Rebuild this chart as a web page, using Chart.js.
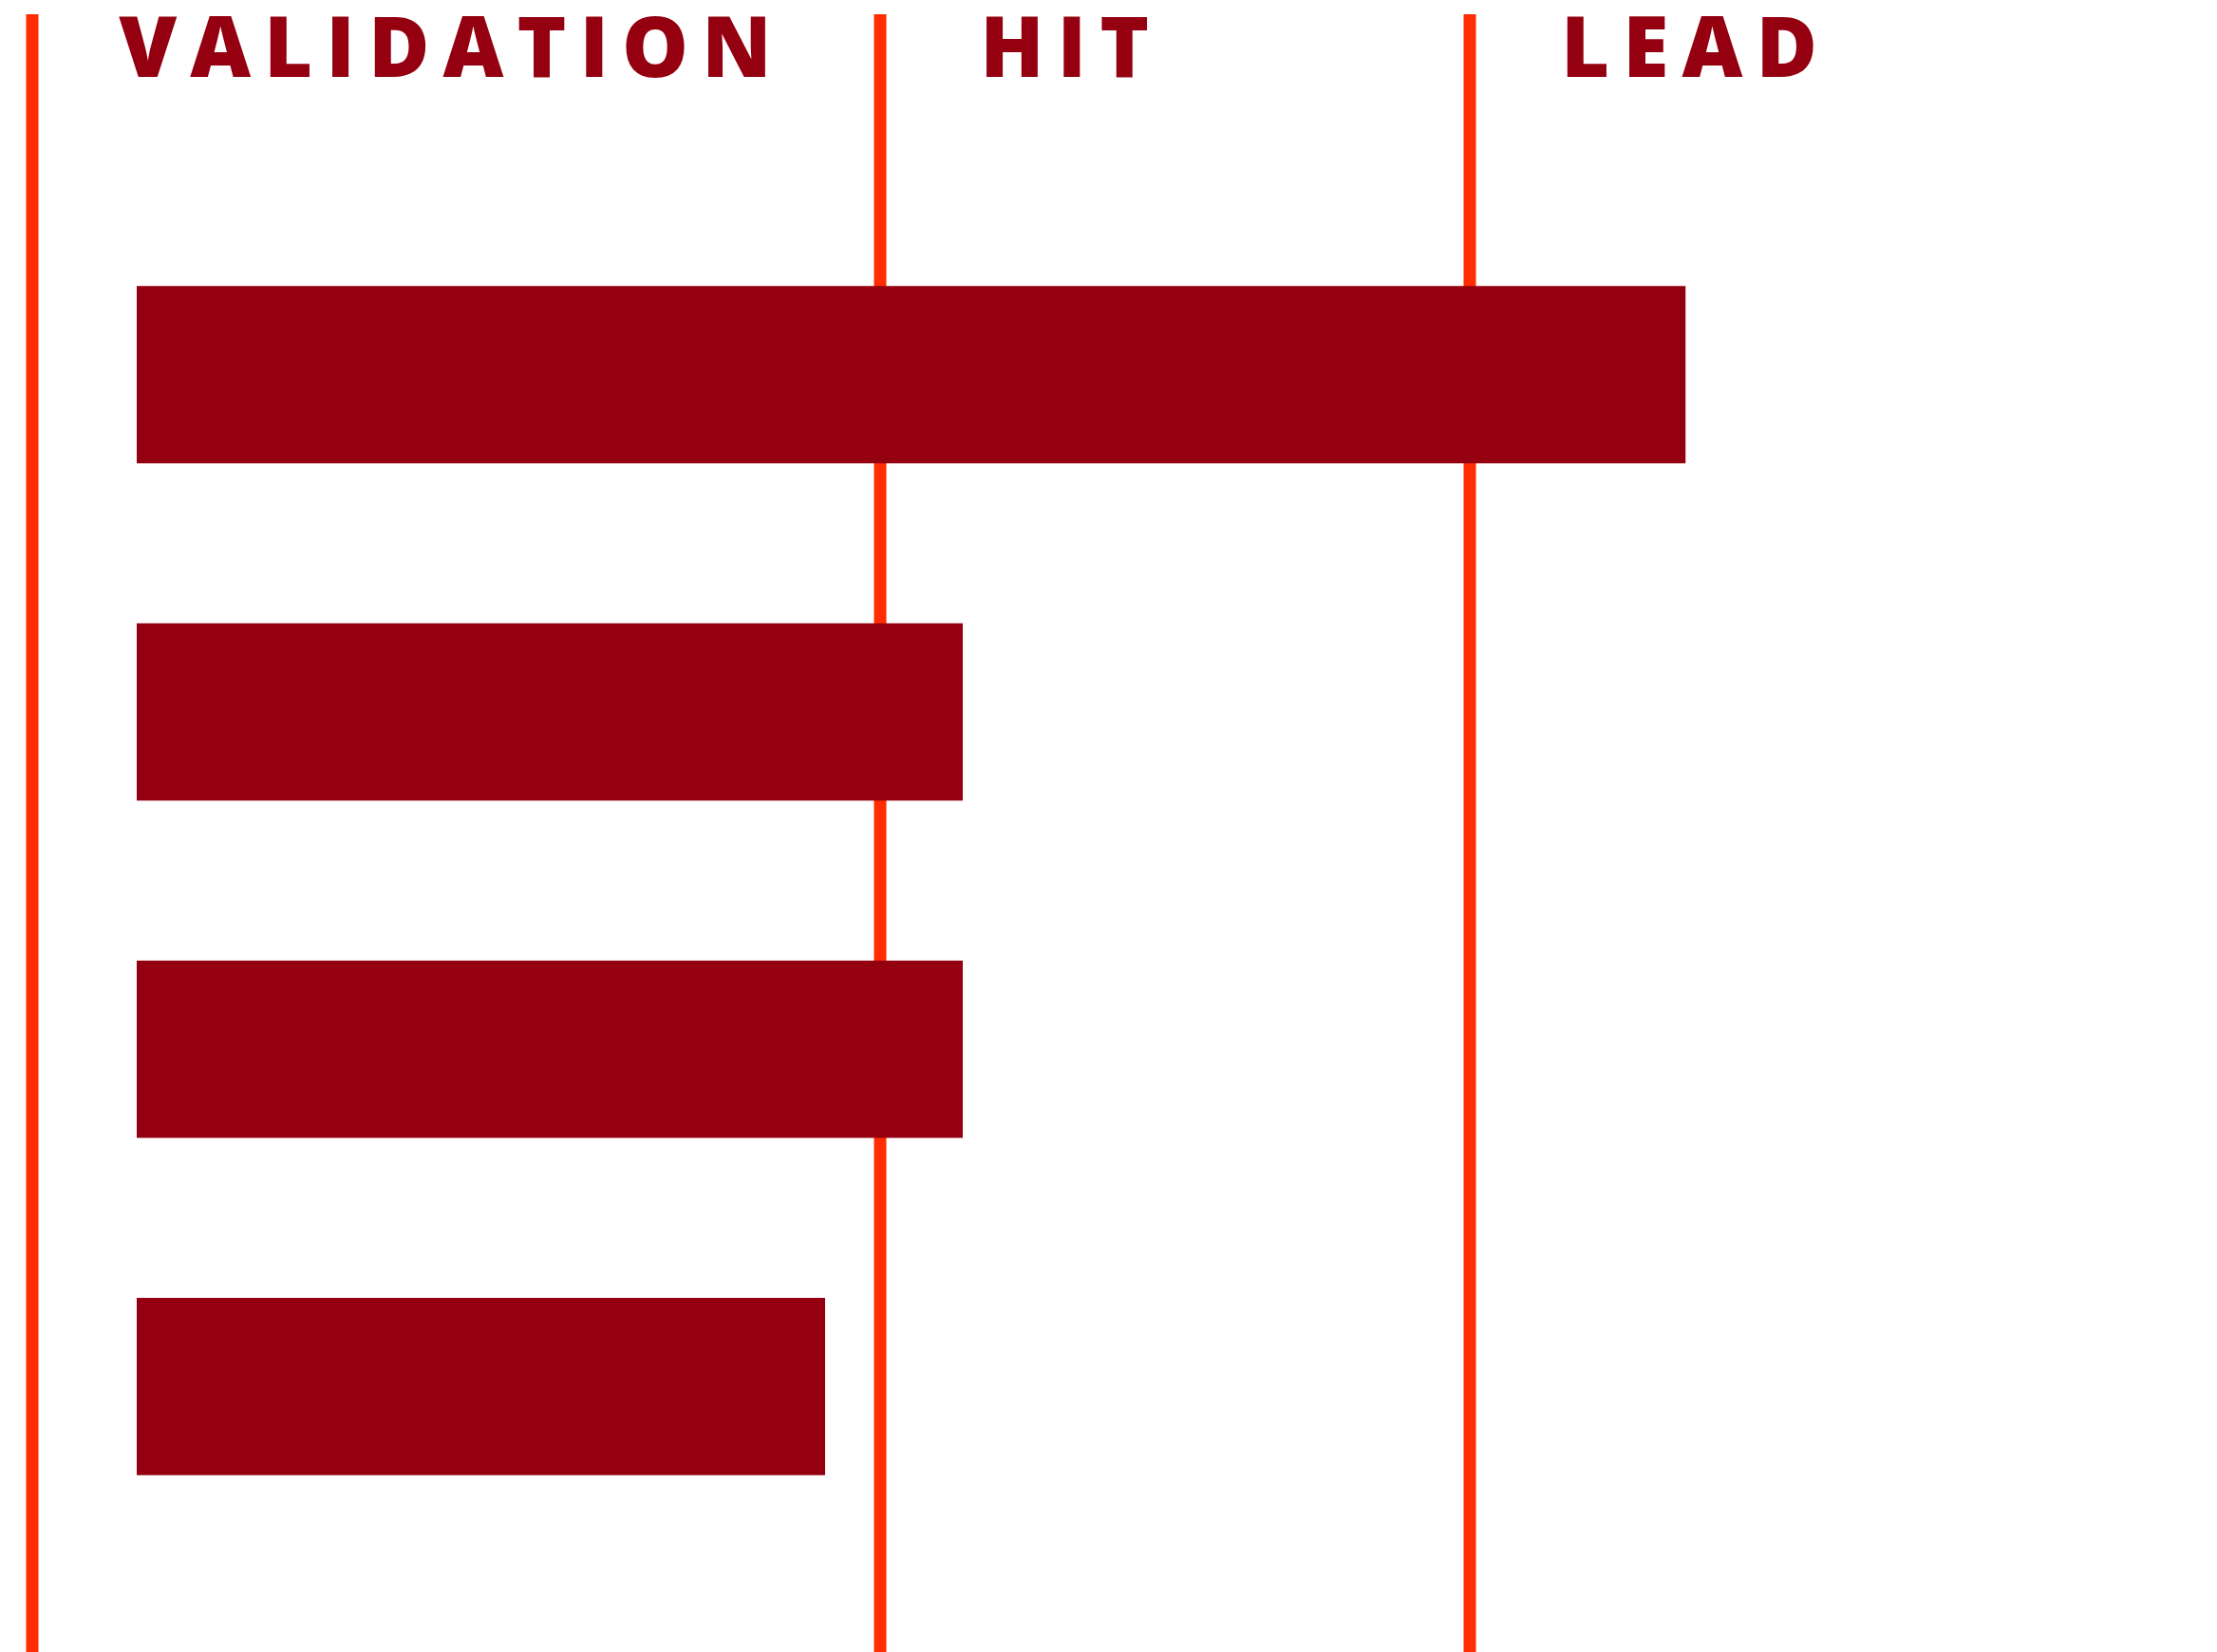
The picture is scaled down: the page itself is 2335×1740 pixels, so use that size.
<!DOCTYPE html>
<html>
<head>
<meta charset="utf-8">
<script src="https://cdn.jsdelivr.net/npm/chart.js@4/dist/chart.umd.min.js"></script>
<style>
  html, body { margin: 0; padding: 0; background: #fff; }
  #wrap { width: 2335px; height: 1740px; }
</style>
</head>
<body>
<div id="wrap"><canvas id="funnel" width="2335" height="1740"></canvas></div>
<script>
// datos del gráfico
const categories = ['1', '2', '3', '4'];
const values = [45, 24, 24, 20];
const stageLabels = ['VALIDATION', 'HIT', 'LEAD'];
const stageLabelStart = [-0.52, 24.5, 41.38];
const stageDividers = [-3.03, 21.61, 38.73];

const BAR_COLOR = '#94000f';
const LINE_COLOR = '#ff2d00';

// líneas divisorias (detrás de las barras) y títulos de etapa
const stagePlugin = {
    id: 'stages',
    beforeDatasetsDraw(chart) {
        const { ctx, scales: { x } } = chart;
        ctx.save();
        ctx.strokeStyle = LINE_COLOR;
        ctx.lineWidth = 13;
        stageDividers.forEach(v => {
            const px = Math.round(x.getPixelForValue(v));
            ctx.beginPath();
            ctx.moveTo(px, 15);
            ctx.lineTo(px, chart.height);
            ctx.stroke();
        });
        ctx.restore();
    },
    afterDraw(chart) {
        const { ctx, scales: { x } } = chart;
        ctx.save();
        ctx.fillStyle = BAR_COLOR;
        ctx.font = '800 88px "Open Sans"';
        ctx.letterSpacing = '14px';
        ctx.textBaseline = 'alphabetic';
        ctx.textAlign = 'left';
        stageLabels.forEach((t, i) => {
            ctx.fillText(t, x.getPixelForValue(stageLabelStart[i]), 81);
        });
        ctx.restore();
    }
};

new Chart(document.getElementById('funnel'), {
    type: 'bar',
    data: {
        labels: categories,
        datasets: [{
            data: values,
            backgroundColor: BAR_COLOR,
            borderWidth: 0,
            categoryPercentage: 1,
            barPercentage: 0.526
        }]
    },
    options: {
        indexAxis: 'y',
        responsive: false,
        animation: false,
        layout: { padding: { left: 144, right: 16, top: 217, bottom: 102 } },
        plugins: { legend: { display: false }, tooltip: { enabled: false } },
        scales: {
            x: { display: false, min: 0, max: 60 },
            y: { display: false }
        }
    },
    plugins: [stagePlugin]
});
</script>
</body>
</html>
